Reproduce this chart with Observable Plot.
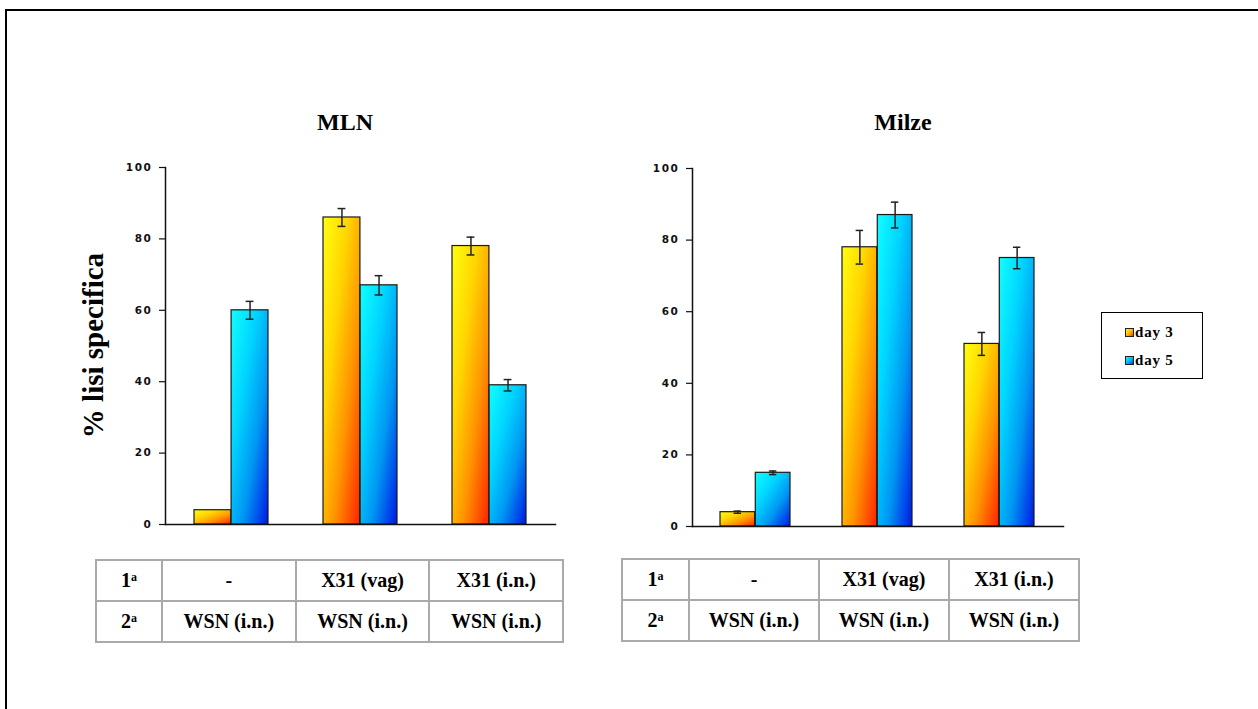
<!DOCTYPE html>
<html>
<head>
<meta charset="utf-8">
<script src="https://cdn.jsdelivr.net/npm/d3@7"></script>
<script src="https://cdn.jsdelivr.net/npm/@observablehq/plot@0.6"></script>
<style>
  body { margin: 0; background: #fff; }
  #root { position: relative; width: 1258px; height: 709px; overflow: hidden; background: #fff;
          font-family: "Liberation Serif", "Times New Roman", serif; color: #000; }
  .outer { position: absolute; left: 5px; top: 9px; width: 2000px; height: 2000px;
           border-top: 2px solid #000; border-left: 2px solid #000; }
  .title { position: absolute; width: 200px; text-align: center; font-weight: bold;
           font-size: 24px; line-height: 24px; }
  .ylabel { position: absolute; width: 300px; text-align: center; font-weight: bold;
            font-size: 29px; line-height: 29px; transform: rotate(-90deg); transform-origin: center center; }
  .panel { position: absolute; top: 0; }
  table.cond { position: absolute; border-collapse: collapse; table-layout: fixed; background: #fff;
               font-family: "Liberation Serif", "Times New Roman", serif; font-weight: bold; font-size: 20px; }
  table.cond td { border: 2px solid #aaa; padding: 0; text-align: center; white-space: nowrap;
                  font-family: "Liberation Serif", "Times New Roman", serif; font-weight: bold; font-size: 20px; }
  table.cond sup { font-size: 12px; vertical-align: 6px; }
  .legend { position: absolute; left: 1101px; top: 312px; width: 100px; height: 65px;
            border: 1px solid #000; font-weight: bold; font-size: 15px; letter-spacing: 0.8px; }
  .legend .item { position: absolute; left: 23px; display: flex; align-items: center; gap: 1px; }
  .legend svg { display: block; }
</style>
</head>
<body>
<svg width="0" height="0" style="position:absolute">
  <defs>
    <linearGradient id="gradDay3" x1="0" y1="0" x2="1" y2="1">
      <stop offset="0" stop-color="#ffff10"/>
      <stop offset="0.35" stop-color="#ffd400"/>
      <stop offset="0.65" stop-color="#ff9200"/>
      <stop offset="1" stop-color="#ff2200"/>
    </linearGradient>
    <linearGradient id="gradDay5" x1="0" y1="0" x2="1" y2="1">
      <stop offset="0" stop-color="#10ffff"/>
      <stop offset="0.35" stop-color="#00d4ff"/>
      <stop offset="0.65" stop-color="#0096f2"/>
      <stop offset="1" stop-color="#0018e6"/>
    </linearGradient>
  </defs>
</svg>
<div id="root">
  <div class="outer"></div>
</div>
<script>
// ---------------- data ----------------
const groups = ["-", "X31 (vag)", "X31 (i.n.)"];          // 1ª infection (categories)
const secondInfection = ["WSN (i.n.)", "WSN (i.n.)", "WSN (i.n.)"]; // 2ª infection
const rowLabels = ["1", "2"];                               // with superscript "a"
const seriesNames = ["day 3", "day 5"];
const yTicks = [0, 20, 40, 60, 80, 100];

const mlnDay3 = [4, 86, 78];
const mlnDay3Err = [0, 2.5, 2.5];
const mlnDay5 = [60, 67, 39];
const mlnDay5Err = [2.5, 2.7, 1.6];

const milzeDay3 = [4, 78, 51];
const milzeDay3Err = [0.3, 4.7, 3.2];
const milzeDay5 = [15, 87, 75];
const milzeDay5Err = [0.5, 3.6, 3.0];

const panelTitles = ["MLN", "Milze"];
const yLabel = "% lisi specifica";

// ---------------- drawing ----------------
const root = document.getElementById("root");

function drawPanel({left, width, height, mL, mR, mT, mB, d3v, d3e, d5v, d5e}) {
  const pi = 0.426, po = 0.222;
  const range = width - mL - mR;
  const n = groups.length;
  const step = range / (n - pi + 2 * po);
  const bw = step * (1 - pi);
  const cap = 4;
  const s3 = groups.map((g, i) => ({g, v: d3v[i], e: d3e[i]}));
  const s5 = groups.map((g, i) => ({g, v: d5v[i], e: d5e[i]}));
  const e3 = s3.filter(d => d.e > 0), e5 = s5.filter(d => d.e > 0);
  const errMarks = (arr, center) => [
    Plot.ruleX(arr, {x: "g", y1: d => d.v - d.e, y2: d => d.v + d.e, dx: center, stroke: "#222", strokeWidth: 1.5}),
    Plot.tickY(arr, {x: "g", y: d => d.v + d.e, insetLeft: bw / 2 + center - cap, insetRight: bw / 2 - center - cap, stroke: "#222", strokeWidth: 1.5}),
    Plot.tickY(arr, {x: "g", y: d => d.v - d.e, insetLeft: bw / 2 + center - cap, insetRight: bw / 2 - center - cap, stroke: "#222", strokeWidth: 1.5})
  ];
  const plot = Plot.plot({
    width, height,
    marginLeft: mL, marginRight: mR, marginTop: mT, marginBottom: mB,
    style: {fontFamily: "DejaVu Sans", fontSize: "10.5px", fontWeight: "bold", letterSpacing: "1.6px",
            color: "#111", background: "transparent", overflow: "visible"},
    x: {type: "band", domain: groups, paddingInner: pi, paddingOuter: po, axis: null},
    y: {domain: [0, 100], axis: null},
    marks: [
      Plot.axisY({ticks: yTicks, tickSize: 6, tickPadding: 7, label: null, strokeWidth: 1.2}),
      Plot.barY(s3, {x: "g", y: "v", insetRight: bw / 2, fill: "url(#gradDay3)", stroke: "#1a1a1a", strokeWidth: 1.2}),
      Plot.barY(s5, {x: "g", y: "v", insetLeft: bw / 2, fill: "url(#gradDay5)", stroke: "#1a1a1a", strokeWidth: 1.2}),
      ...errMarks(e3, -bw / 4),
      ...errMarks(e5, bw / 4),
      Plot.frame({anchor: "left", stroke: "#111", strokeWidth: 1.5}),
      Plot.frame({anchor: "bottom", stroke: "#111", strokeWidth: 1.5})
    ]
  });
  const div = document.createElement("div");
  div.className = "panel";
  div.style.left = left + "px";
  div.appendChild(plot);
  root.appendChild(div);
}

drawPanel({left: 0, width: 600, height: 560, mL: 165, mR: 45, mT: 167, mB: 36,
           d3v: mlnDay3, d3e: mlnDay3Err, d5v: mlnDay5, d5e: mlnDay5Err});
drawPanel({left: 600, width: 500, height: 560, mL: 92, mR: 37, mT: 168, mB: 34,
           d3v: milzeDay3, d3e: milzeDay3Err, d5v: milzeDay5, d5e: milzeDay5Err});

// titles
[[345, panelTitles[0]], [903, panelTitles[1]]].forEach(([cx, t]) => {
  const d = document.createElement("div");
  d.className = "title";
  d.style.left = (cx - 100) + "px";
  d.style.top = "110px";
  d.textContent = t;
  root.appendChild(d);
});

// y label
const yl = document.createElement("div");
yl.className = "ylabel";
yl.style.left = (93 - 150) + "px";
yl.style.top = (345 - 14) + "px";
yl.textContent = yLabel;
root.appendChild(yl);

// tables
function drawTable(left, top, firstW, colW) {
  const t = document.createElement("table");
  t.className = "cond";
  t.style.left = left + "px";
  t.style.top = top + "px";
  t.style.width = (firstW + 3 * colW) + "px";
  const cg = document.createElement("colgroup");
  [firstW, colW, colW, colW].forEach(w => { const c = document.createElement("col"); c.style.width = w + "px"; cg.appendChild(c); });
  t.appendChild(cg);
  const rows = [groups, secondInfection];
  rows.forEach((cells, r) => {
    const tr = document.createElement("tr");
    tr.style.height = "41px";
    const th = document.createElement("td");
    th.textContent = rowLabels[r];
    const sup = document.createElement("sup");
    sup.textContent = "a";
    th.appendChild(sup);
    tr.appendChild(th);
    cells.forEach(c => { const td = document.createElement("td"); td.textContent = c; tr.appendChild(td); });
    t.appendChild(tr);
  });
  root.appendChild(t);
}
drawTable(95, 559, 66, 133.7);
drawTable(621, 558, 67, 130);

// legend
const lg = document.createElement("div");
lg.className = "legend";
seriesNames.forEach((name, i) => {
  const it = document.createElement("div");
  it.className = "item";
  it.style.top = (i === 0 ? 11 : 39) + "px";
  it.innerHTML = `<svg width="9" height="9"><rect x="0.5" y="0.5" width="8" height="8" fill="url(#${i === 0 ? "gradDay3" : "gradDay5"})" stroke="#222"/></svg><span>${name}</span>`;
  lg.appendChild(it);
});
root.appendChild(lg);
</script>
</body>
</html>
